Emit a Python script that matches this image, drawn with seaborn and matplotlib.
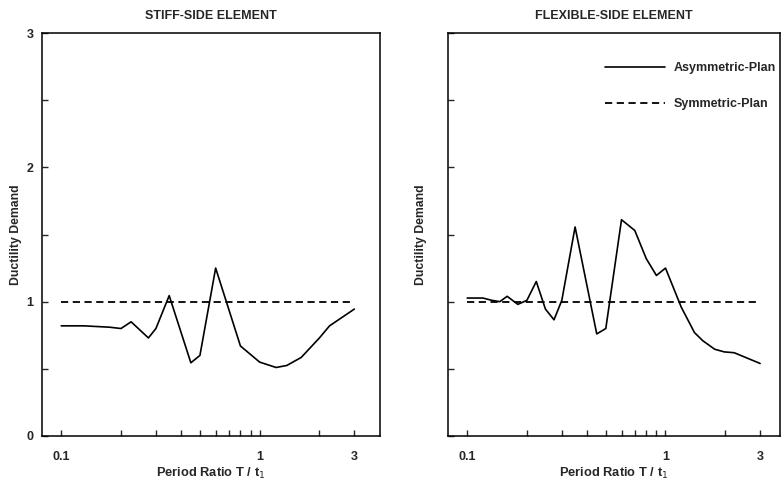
import numpy as np
import pandas as pd
import matplotlib
matplotlib.use("Agg")
import matplotlib.pyplot as plt
from matplotlib.ticker import FixedLocator, FixedFormatter, NullFormatter
import seaborn as sns

# Stiff-side element, asymmetric plan
period_stiff = [0.1, 0.13, 0.175, 0.20, 0.225, 0.275, 0.30, 0.35, 0.45, 0.50,
                0.60, 0.80, 1.0, 1.21, 1.37, 1.62, 2.0, 2.25, 3.0]
demand_stiff = [0.82, 0.82, 0.81, 0.80, 0.85, 0.73, 0.80, 1.045, 0.545, 0.60,
                1.25, 0.67, 0.55, 0.51, 0.525, 0.585, 0.73, 0.82, 0.945]

# Flexible-side element, asymmetric plan
period_flex = [0.1, 0.12, 0.133, 0.146, 0.159, 0.18, 0.20, 0.223, 0.248, 0.274,
               0.30, 0.35, 0.45, 0.50, 0.60, 0.70, 0.80, 0.90, 1.0, 1.2,
               1.4, 1.54, 1.77, 1.98, 2.22, 3.0]
demand_flex = [1.027, 1.027, 1.01, 1.0, 1.04, 0.98, 1.01, 1.15, 0.945, 0.865,
               1.01, 1.556, 0.76, 0.80, 1.61, 1.53, 1.32, 1.195, 1.25, 0.96,
               0.77, 0.71, 0.646, 0.626, 0.62, 0.54]

# Symmetric plan reference
period_sym = [0.1, 3.0]
demand_sym = [1.0, 1.0]

titles = ["STIFF-SIDE ELEMENT", "FLEXIBLE-SIDE ELEMENT"]
x_major = [0.1, 1, 3]
x_major_labels = ["0.1", "1", "3"]
x_minor = [0.2, 0.3, 0.4, 0.5, 0.6, 0.7, 0.8, 0.9, 2]
y_major = [0, 1, 2, 3]
y_minor = [0.5, 1.5, 2.5]

sns.set_theme(style="ticks")
plt.rcParams["font.family"] = ["Liberation Sans", "DejaVu Sans"]

fig = plt.figure(figsize=(7.81, 4.83), dpi=100)
ax1 = fig.add_axes([42 / 781, 47 / 483, 338 / 781, 403 / 483])
ax2 = fig.add_axes([448 / 781, 47 / 483, 332 / 781, 403 / 483])

asym = pd.DataFrame({"T": period_stiff, "mu": demand_stiff})
sns.lineplot(data=asym, x="T", y="mu", ax=ax1, color="black", linewidth=1.2)
sns.lineplot(x=period_sym, y=demand_sym, ax=ax1, color="black", linewidth=1.3,
             linestyle=(0, (4, 2.5)))

flex = pd.DataFrame({"T": period_flex, "mu": demand_flex})
sns.lineplot(data=flex, x="T", y="mu", ax=ax2, color="black", linewidth=1.2,
             label="Asymmetric-Plan")
sns.lineplot(x=period_sym, y=demand_sym, ax=ax2, color="black", linewidth=1.3,
             linestyle=(0, (4, 2.5)), label="Symmetric-Plan")

xlims = [(0.08, 4.04), (0.08, 3.78)]
for i, ax in enumerate([ax1, ax2]):
    ax.set_xscale("log")
    ax.set_xlim(*xlims[i])
    ax.set_ylim(0, 3)
    ax.xaxis.set_major_locator(FixedLocator(x_major))
    ax.xaxis.set_major_formatter(FixedFormatter(x_major_labels))
    ax.xaxis.set_minor_locator(FixedLocator(x_minor))
    ax.xaxis.set_minor_formatter(NullFormatter())
    ax.yaxis.set_major_locator(FixedLocator(y_major))
    ax.yaxis.set_minor_locator(FixedLocator(y_minor))
    ax.tick_params(which="both", direction="in", length=4, width=1.0,
                   top=False, right=False, labelsize=9, pad=6)
    ax.tick_params(axis="x", which="major", pad=11)
    for lab in ax.get_xticklabels() + ax.get_yticklabels():
        lab.set_fontweight("bold")
    for sp in ax.spines.values():
        sp.set_visible(True)
        sp.set_linewidth(1.1)
        sp.set_color("black")
    ax.set_title(titles[i], fontsize=9, fontweight="bold", pad=10)
    ax.set_xlabel("Period Ratio T / t$_1$", fontsize=9.3, fontweight="bold", labelpad=2)
    ax.set_ylabel("Ductility Demand", fontsize=8.8, fontweight="bold", labelpad=3)

ax2.set_yticklabels([])
ax2.yaxis.labelpad = 9

leg = ax2.legend(loc="upper right", bbox_to_anchor=(1.021, 0.955), frameon=False,
                 handlelength=4.8, handletextpad=0.7, labelspacing=1.9,
                 prop={"size": 9, "weight": "bold"})

fig.savefig("out.png", dpi=100)
